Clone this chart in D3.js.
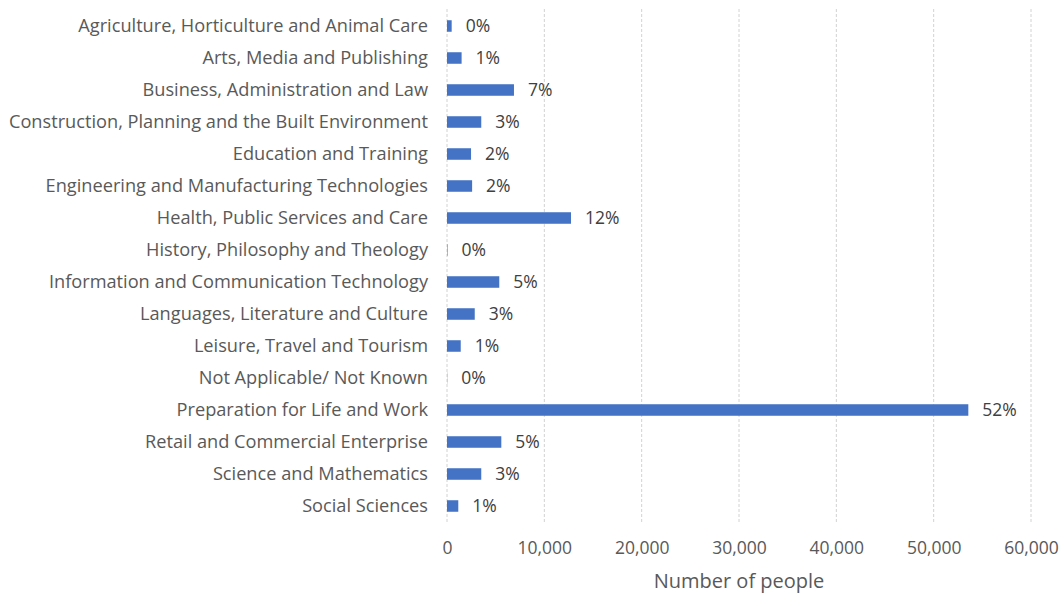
<!DOCTYPE html>
<html>
<head>
<meta charset="utf-8">
<script src="https://cdn.jsdelivr.net/npm/d3@7"></script>
<style>
  html, body { margin: 0; padding: 0; background: #fff; }
  svg { display: block; }
  text { font-family: "Open Sans", Lato, sans-serif; }
</style>
</head>
<body>
<svg id="chart" width="1061" height="593"></svg>
<script>
// Learners by subject sector area
const categories = [
  "Agriculture, Horticulture and Animal Care",
  "Arts, Media and Publishing",
  "Business, Administration and Law",
  "Construction, Planning and the Built Environment",
  "Education and Training",
  "Engineering and Manufacturing Technologies",
  "Health, Public Services and Care",
  "History, Philosophy and Theology",
  "Information and Communication Technology",
  "Languages, Literature and Culture",
  "Leisure, Travel and Tourism",
  "Not Applicable/ Not Known",
  "Preparation for Life and Work",
  "Retail and Commercial Enterprise",
  "Science and Mathematics",
  "Social Sciences"
];
const people = [480, 1500, 6880, 3520, 2470, 2580, 12740, 50, 5370, 2850, 1410, 20, 53560, 5580, 3520, 1160];
const xTicks = [0, 10000, 20000, 30000, 40000, 50000, 60000];
const xTitle = "Number of people";

const svg = d3.select("#chart");
const margin = { left: 447, right: 30, top: 10, bottom: 71 };
const W = 1061, H = 593;

const x = d3.scaleLinear().domain([0, 60000]).range([margin.left, W - margin.right]);
const y = d3.scaleBand().domain(categories).range([margin.top, H - margin.bottom]).paddingInner(0.64).paddingOuter(0.32);

const total = d3.sum(people);
const pct = d3.format(".0%");

// vertical gridlines
svg.append("g").selectAll("line").data(xTicks).join("line")
  .attr("x1", d => x(d)).attr("x2", d => x(d))
  .attr("y1", margin.top - 1).attr("y2", H - margin.bottom)
  .attr("stroke", "#d2d2d2").attr("stroke-width", 1)
  .attr("stroke-dasharray", "3,2");

// bars
svg.append("g").selectAll("rect").data(people).join("rect")
  .attr("x", x(0))
  .attr("y", (d, i) => y(categories[i]))
  .attr("width", d => x(d) - x(0))
  .attr("height", y.bandwidth())
  .attr("fill", "#4472C4");

// value labels (share of total)
svg.append("g").selectAll("text").data(people).join("text")
  .attr("x", d => x(d) + 14)
  .attr("y", (d, i) => y(categories[i]) + y.bandwidth() / 2)
  .attr("dy", "0.35em")
  .attr("font-size", 17.5)
  .attr("fill", "#404040")
  .text(d => pct(d / total));

// category axis
const yAxis = d3.axisLeft(y).tickSize(0).tickPadding(19);
const gy = svg.append("g").attr("transform", `translate(${x(0)},0)`).call(yAxis);
gy.select(".domain").remove();
gy.selectAll("text").attr("font-size", 18.2).attr("fill", "#595959").attr("font-family", "'Open Sans', sans-serif");

// value axis
const xAxis = d3.axisBottom(x).tickValues(xTicks).tickSize(0).tickPadding(14).tickFormat(d3.format(","));
const gx = svg.append("g").attr("transform", `translate(0,${H - margin.bottom + 6})`).call(xAxis);
gx.select(".domain").remove();
gx.selectAll("text").attr("font-size", 17.5).attr("fill", "#595959").attr("font-family", "'Open Sans', sans-serif");

// axis title
svg.append("text")
  .attr("x", (x(0) + x(60000)) / 2)
  .attr("y", 588)
  .attr("text-anchor", "middle")
  .attr("font-size", 20)
  .attr("fill", "#595959")
  .text(xTitle);
</script>
</body>
</html>
